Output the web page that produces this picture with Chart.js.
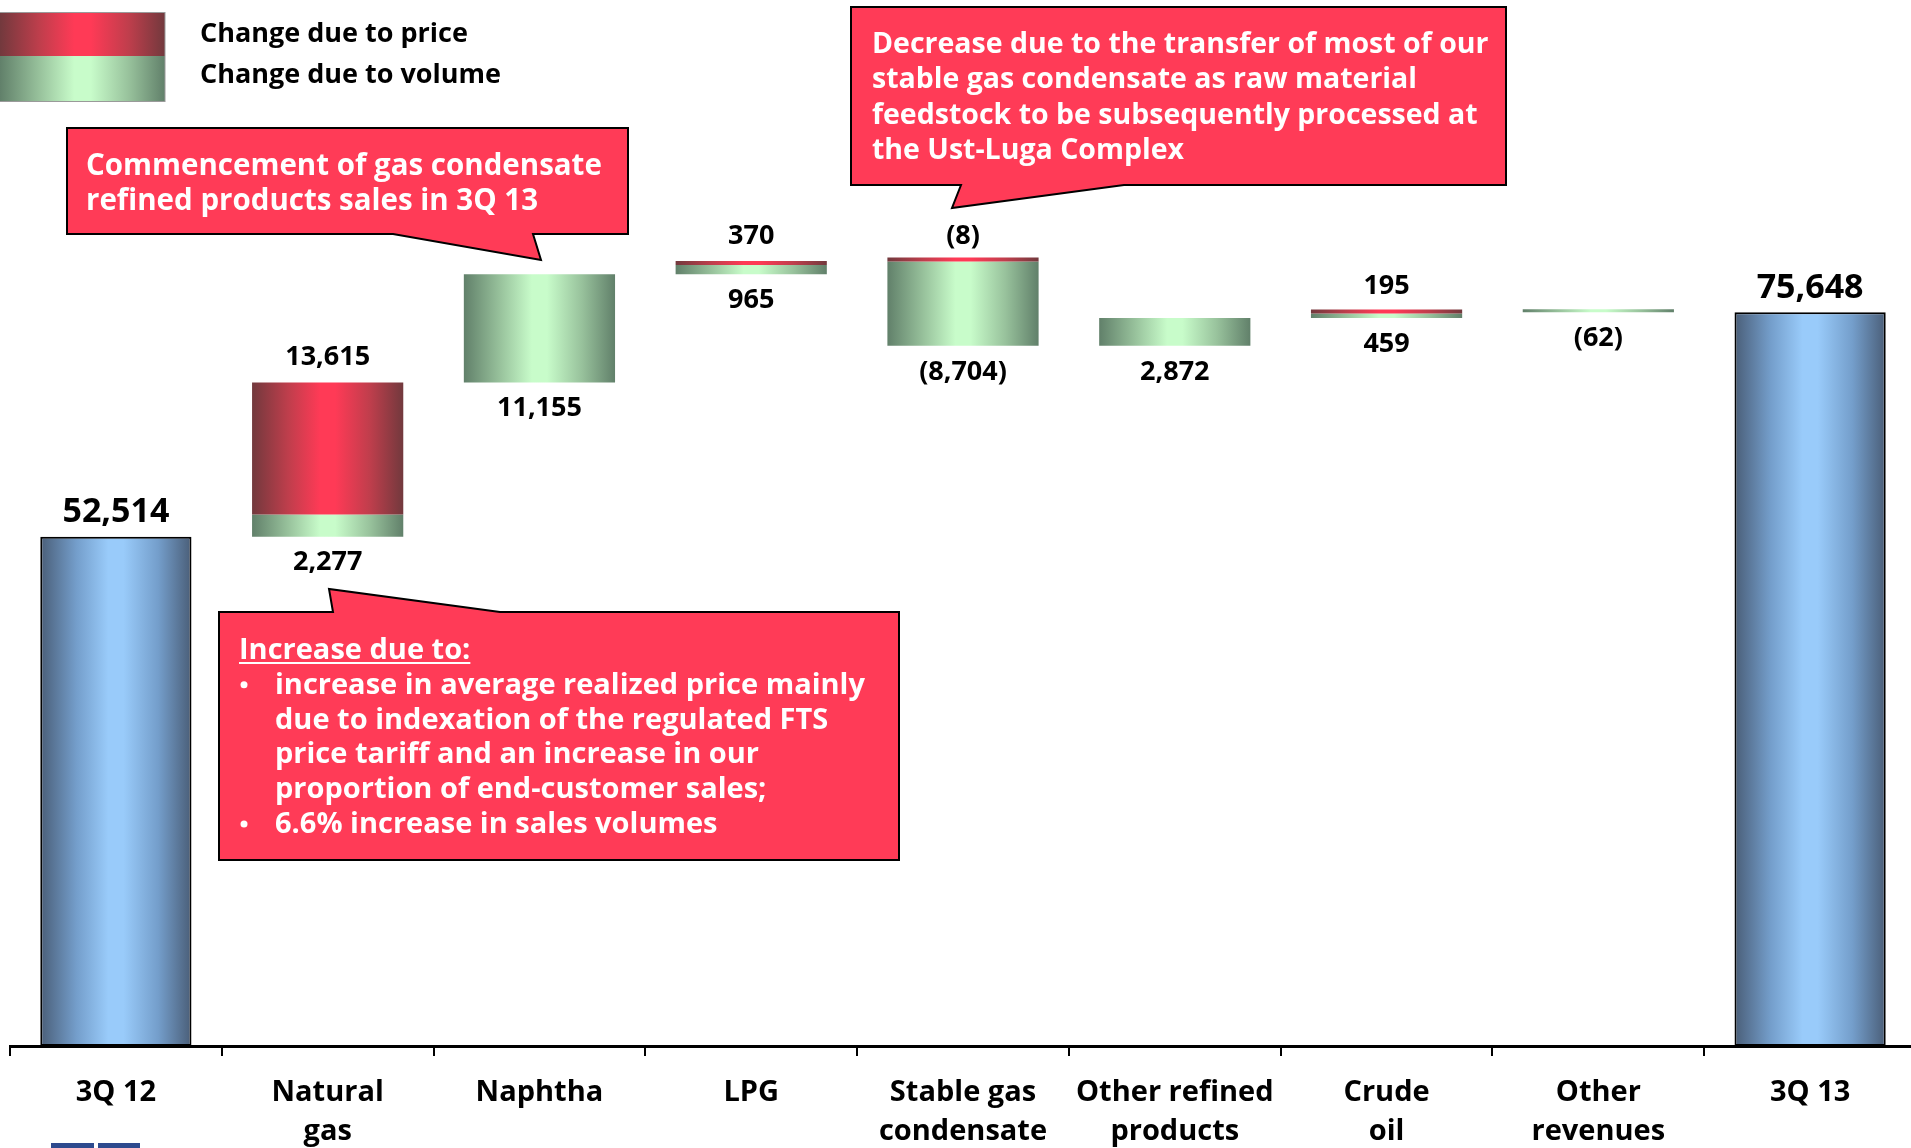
<!DOCTYPE html>
<html>
<head>
<meta charset="utf-8">
<title>Revenue bridge 3Q 12 - 3Q 13</title>
<script src="https://cdn.jsdelivr.net/npm/chart.js@4.4.0/dist/chart.umd.min.js"></script>
<style>
    html, body { margin: 0; padding: 0; background: #fff; overflow: hidden; }
    #wrap { position: relative; width: 1916px; height: 1148px; }
</style>
</head>
<body>
<div id="wrap"><canvas id="bridgeChart"></canvas></div>
<script>
// Dữ liệu
var categories = ['3Q 12', ['Natural', 'gas'], 'Naphtha', 'LPG', ['Stable gas', 'condensate'],
    ['Other refined', 'products'], ['Crude', 'oil'], ['Other', 'revenues'], '3Q 13'];
var totals = [52514, null, null, null, null, null, null, null, 75648];
var priceChange = [null, 13615, null, 370, -8, null, 195, null, null];
var volumeChange = [null, 2277, 11155, 965, -8704, 2872, 459, -62, null];

var legendLabels = ['Change due to price', 'Change due to volume'];
var noteNaphtha = ['Commencement of gas condensate', 'refined products sales in 3Q 13'];
var noteCondensate = ['Decrease due to the transfer of most of our', 'stable gas condensate as raw material',
    'feedstock to be subsequently processed at', 'the Ust-Luga Complex'];
var noteGasTitle = 'Increase due to:';
var noteGasBullets = [['increase in average realized price mainly', 'due to indexation of the regulated FTS',
    'price tariff and an increase in our', 'proportion of end-customer sales;'], ['6.6% increase in sales volumes']];

// Tính các đoạn nổi của biểu đồ thác nước
var priceBars = [], volumeBars = [], spanTop = [], spanBottom = [];
var level = totals[0];
for (var i = 0; i < categories.length; i++) {
    if (totals[i] !== null) {
        priceBars.push(null); volumeBars.push(null);
        spanTop.push(totals[i]); spanBottom.push(0);
        continue;
    }
    var p = priceChange[i] || 0, v = volumeChange[i] || 0;
    var next = level + p + v;
    var hi = Math.max(level, next), lo = Math.min(level, next);
    priceBars.push(priceChange[i] === null ? null : [hi, hi - Math.abs(p)]);
    volumeBars.push(volumeChange[i] === null ? null : [hi - Math.abs(p), lo]);
    spanTop.push(hi); spanBottom.push(lo);
    level = next;
}

var BAR_PCT = 0.714;
var FONT = '"Open Sans", "DejaVu Sans", sans-serif';
var blueStops = ['#4a5e78', '#749ecb', '#99cbfa'];
var redStops = ['#72393d', '#bf3e4c', '#ff3a56'];
var greenStops = ['#61806a', '#98c29c', '#c8fcca'];
var calloutFill = '#ff3b57';

function fmt(n) {
    var s = Math.abs(n).toLocaleString('en-US');
    return n < 0 ? '(' + s + ')' : s;
}

function fillStops(g, stops) {
    g.addColorStop(0, stops[0]);
    g.addColorStop(0.24, stops[1]);
    g.addColorStop(0.45, stops[2]);
    g.addColorStop(0.55, stops[2]);
    g.addColorStop(0.78, stops[1]);
    g.addColorStop(1, stops[0]);
    return g;
}

function barGradient(stops) {
    return function (ctx) {
        var chart = ctx.chart;
        if (!chart.chartArea || ctx.dataIndex === undefined) return stops[2];
        var xs = chart.scales.x;
        var cx = xs.getPixelForValue(ctx.dataIndex);
        var w = xs.width / categories.length * BAR_PCT;
        return fillStops(chart.ctx.createLinearGradient(cx - w / 2, 0, cx + w / 2, 0), stops);
    };
}

// Vẽ hộp chú thích có mũi nhọn
function drawCallout(c, box, base, tip, onTop) {
    c.beginPath();
    c.moveTo(box.l, box.t);
    if (onTop) {
        c.lineTo(base[0], box.t); c.lineTo(tip[0], tip[1]); c.lineTo(base[1], box.t);
    }
    c.lineTo(box.r, box.t);
    c.lineTo(box.r, box.b);
    if (!onTop) {
        c.lineTo(base[1], box.b); c.lineTo(tip[0], tip[1]); c.lineTo(base[0], box.b);
    }
    c.lineTo(box.l, box.b);
    c.closePath();
    c.fillStyle = calloutFill;
    c.fill();
    c.lineWidth = 2;
    c.strokeStyle = '#000';
    c.stroke();
}

var decorPlugin = {
    id: 'decor',
    afterDraw: function (chart) {
        var c = chart.ctx, xs = chart.scales.x, ys = chart.scales.y;
        c.save();

        // nhãn giá trị
        c.fillStyle = '#000';
        c.textAlign = 'center';
        c.textBaseline = 'middle';
        for (var i = 0; i < categories.length; i++) {
            var x = xs.getPixelForValue(i);
            if (totals[i] !== null) {
                c.font = 'bold 34px ' + FONT;
                c.fillText(fmt(totals[i]), x, ys.getPixelForValue(totals[i]) - 24);
                continue;
            }
            c.font = 'bold 27px ' + FONT;
            if (priceChange[i] !== null) c.fillText(fmt(priceChange[i]), x, ys.getPixelForValue(spanTop[i]) - 25);
            if (volumeChange[i] !== null) c.fillText(fmt(volumeChange[i]), x, ys.getPixelForValue(spanBottom[i]) + 26);
        }

        // chú giải
        c.fillStyle = fillStops(c.createLinearGradient(0, 0, 165, 0), redStops);
        c.fillRect(0, 12, 165, 44);
        c.fillStyle = fillStops(c.createLinearGradient(0, 0, 165, 0), greenStops);
        c.fillRect(0, 56, 165, 46);
        c.strokeStyle = '#9a9a9a';
        c.lineWidth = 1;
        c.strokeRect(-1, 12.5, 166, 89);
        c.fillStyle = '#000';
        c.textAlign = 'left';
        c.textBaseline = 'alphabetic';
        c.font = 'bold 27px ' + FONT;
        c.fillText(legendLabels[0], 200, 42);
        c.fillText(legendLabels[1], 200, 83);

        // các hộp chú thích
        c.font = 'bold 29.5px ' + FONT;
        drawCallout(c, {l: 67, t: 128, r: 628, b: 234}, [393, 533], [541, 260], false);
        c.fillStyle = '#fff';
        noteNaphtha.forEach(function (t, k) { c.fillText(t, 86, 175 + k * 35); });

        c.font = 'bold 28.5px ' + FONT;
        drawCallout(c, {l: 851, t: 7, r: 1506, b: 185}, [961, 1124], [952, 208], false);
        c.fillStyle = '#fff';
        noteCondensate.forEach(function (t, k) { c.fillText(t, 872, 53 + k * 35.3); });

        c.font = 'bold 29px ' + FONT;
        drawCallout(c, {l: 219, t: 612, r: 899, b: 860}, [333, 500], [329, 589], true);
        c.fillStyle = '#fff';
        c.fillText(noteGasTitle, 239, 659);
        var tw = c.measureText(noteGasTitle).width;
        c.fillRect(239, 662, tw, 2);
        var row = 1;
        noteGasBullets.forEach(function (lines) {
            c.beginPath();
            c.arc(244, 659 + row * 34.8 - 9, 3.5, 0, Math.PI * 2);
            c.fill();
            lines.forEach(function (t) {
                c.fillText(t, 275, 659 + row * 34.8);
                row++;
            });
        });

        // mảnh logo ở góc dưới
        c.fillStyle = '#2d4a8e';
        c.fillRect(51, 1143, 43, 5);
        c.fillRect(98, 1143, 42, 5);
        c.restore();
    }
};

var ctx = document.getElementById('bridgeChart').getContext('2d');
var bridgeChart = new Chart(ctx, {
    type: 'bar',
    data: {
        labels: categories,
        datasets: [{
            label: legendLabels[0],
            data: priceBars,
            backgroundColor: barGradient(redStops),
            borderWidth: 0,
            minBarLength: 4
        }, {
            label: legendLabels[1],
            data: volumeBars,
            backgroundColor: barGradient(greenStops),
            borderWidth: 0,
            minBarLength: 3
        }, {
            label: 'Total',
            data: totals,
            backgroundColor: barGradient(blueStops),
            borderColor: '#000',
            borderWidth: 2,
            borderSkipped: false
        }]
    },
    options: {
        responsive: true,
        maintainAspectRatio: false,
        animation: false,
        layout: { padding: { top: 46, left: 10, right: 0, bottom: 0 } },
        datasets: { bar: { grouped: false, barPercentage: BAR_PCT, categoryPercentage: 1 } },
        plugins: { legend: { display: false }, tooltip: { enabled: false } },
        scales: {
            y: { display: false, min: 0, max: 103100 },
            x: {
                afterFit: function (scale) { scale.height = 102; },
                border: { display: true, color: '#000', width: 3 },
                grid: { display: true, drawOnChartArea: false, drawTicks: true, tickLength: 10, color: '#000', lineWidth: 2, offset: true },
                ticks: {
                    color: '#000',
                    padding: 17,
                    maxRotation: 0,
                    autoSkip: false,
                    font: { family: FONT, size: 29, weight: 'bold', lineHeight: 1.35 }
                }
            }
        }
    },
    plugins: [decorPlugin]
});
</script>
</body>
</html>
